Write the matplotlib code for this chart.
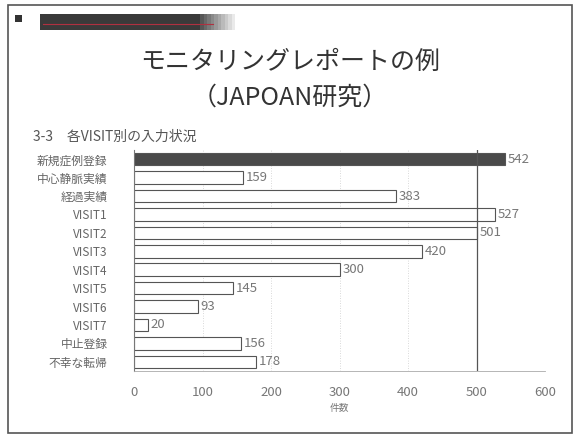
import numpy as np
import matplotlib.pyplot as plt
from matplotlib.patches import Rectangle

plt.rcParams['font.family'] = ['Noto Sans CJK JP', 'DejaVu Sans']

# 各VISIT別の入力件数
categories = ['新規症例登録', '中心静脈実績', '経過実績', 'VISIT1', 'VISIT2', 'VISIT3',
              'VISIT4', 'VISIT5', 'VISIT6', 'VISIT7', '中止登録', '不幸な転帰']
counts = [542, 159, 383, 527, 501, 420, 300, 145, 93, 20, 156, 178]
xticks = [0, 100, 200, 300, 400, 500, 600]

fig = plt.figure(figsize=(5.8, 4.37), dpi=100)
fig.patch.set_facecolor('white')

# slide frame and header decoration
fig.add_artist(Rectangle((8/580, 1-433/437), 564/580, 428/437, transform=fig.transFigure,
                         fill=False, edgecolor='#555555', linewidth=1.2))
fig.add_artist(Rectangle((15/580, 1-22/437), 7/580, 7/437, transform=fig.transFigure,
                         facecolor='#333333', edgecolor='none'))
fig.add_artist(Rectangle((40/580, 1-30/437), 160/580, 16/437, transform=fig.transFigure,
                         facecolor='#3a3a3a', edgecolor='none'))
# fade out the right end of the header bar
for i, a in enumerate(np.linspace(0.85, 0.1, 10)):
    fig.add_artist(Rectangle(((200 + i*3.5)/580, 1-30/437), 3.6/580, 16/437,
                             transform=fig.transFigure, facecolor='#3a3a3a',
                             alpha=a, edgecolor='none'))
fig.add_artist(plt.Line2D([43/580, 213/580], [1-24/437, 1-24/437], transform=fig.transFigure,
                          color='#b03040', linewidth=0.8))

fig.text(0.5, 1-62/437, 'モニタリングレポートの例', ha='center', va='center',
         fontsize=18, color='#333333')
fig.text(0.5, 1-98/437, '（JAPOAN研究）', ha='center', va='center',
         fontsize=18, color='#333333')
fig.text(33/580, 1-137/437, '3-3　各VISIT別の入力状況', ha='left', va='center',
         fontsize=10, color='#555555')

ax = fig.add_axes([134/580, 1-371/437, 411/580, 221/437])
y = np.arange(len(categories))
colors = ['#4a4a4a'] + ['white'] * (len(categories) - 1)
ax.barh(y, counts, height=0.68, color=colors, edgecolor='#555555', linewidth=0.8)
for yi, v in zip(y, counts):
    ax.text(v + 4, yi, str(v), va='center', ha='left', fontsize=9.5, color='#777777')

ax.set_xlim(0, 600)
ax.set_ylim(len(categories) - 0.5, -0.5)
ax.set_xticks(xticks)
ax.set_xticklabels([str(t) for t in xticks], fontsize=9.5, color='#777777')
ax.set_yticks(y)
ax.set_yticklabels(categories, fontsize=8.5, color='#666666')
ax.tick_params(axis='y', length=0, pad=19)
ax.tick_params(axis='x', length=0, pad=11)
for t in [100, 200, 300, 400, 600]:
    ax.axvline(t, color='#cccccc', linewidth=0.6, linestyle=(0, (1, 2)), zorder=0)
ax.axvline(500, color='#555555', linewidth=0.9, zorder=3)
for s in ['top', 'right']:
    ax.spines[s].set_visible(False)
ax.spines['left'].set_color('#777777')
ax.spines['bottom'].set_color('#aaaaaa')
ax.spines['bottom'].set_linewidth(0.6)
ax.set_xlabel('件数', fontsize=7, color='#777777', labelpad=3)

fig.savefig('out.png', dpi=100)
